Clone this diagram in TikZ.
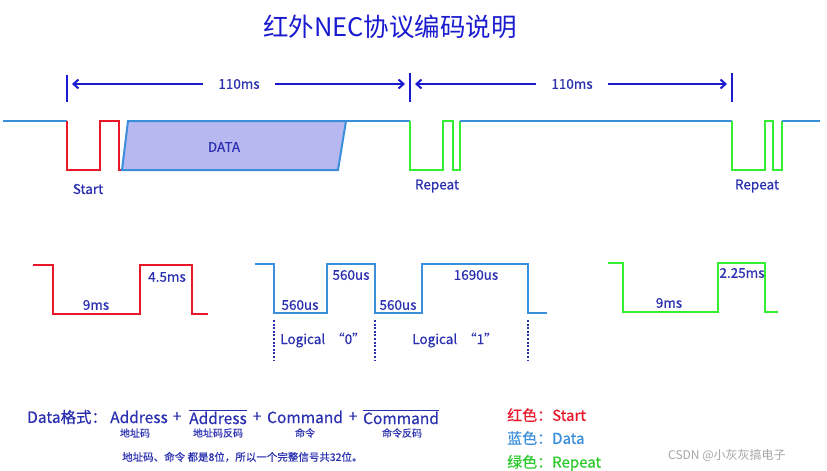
\documentclass[tikz,border=0pt]{standalone}
\usepackage{fontspec}
\setmainfont{Noto Sans CJK SC}
\newfontfamily\boldish[FakeBold=0.4]{Noto Sans CJK SC}
\usetikzlibrary{arrows.meta}
\definecolor{wblue}{HTML}{3A8FDC}
\definecolor{wred}{HTML}{E8182A}
\definecolor{wgreen}{HTML}{33EE33}
\definecolor{tblue}{HTML}{2A30B0}
\definecolor{dimblue}{HTML}{1A1AD0}
\definecolor{datafill}{HTML}{B8B8F0}
\tikzset{
  wave/.style={line width=2.6pt, line join=miter},
  lbl/.style={text=tblue, font=\boldish\fontsize{13.5}{15}\selectfont, inner sep=0pt},
  dimbar/.style={draw=dimblue, line width=2.2pt},
  dimarrow/.style={draw=dimblue, line width=2pt, -{Straight Barb[length=5pt,width=9pt]}},
  dotl/.style={draw=tblue, line width=1.4pt, dash pattern=on 2pt off 1.6pt},
  fmt/.style={text=tblue, font=\boldish\fontsize{15.5}{17}\selectfont, inner sep=0pt},
  sub/.style={text=tblue, font=\boldish\fontsize{10}{12}\selectfont, inner sep=0pt},
  legend/.style={font=\boldish\fontsize{15}{17}\selectfont, inner sep=0pt, anchor=west}
}
\begin{document}
\begin{tikzpicture}[x=1pt,y=-1pt]
\useasboundingbox (0,0) rectangle (827,471);
\fill[white] (0,0) rectangle (827,471);
% title
\node[text=dimblue, font=\fontsize{25.5}{28}\selectfont, inner sep=0pt] (title) at (390,27) {红外NEC协议编码说明};
% dimension bars
\draw[dimbar] (67,75) -- (67,102);
\draw[dimbar] (410,73) -- (410,102);
\draw[dimbar] (732,73) -- (732,102);
\node[lbl] (t1) at (239,84) {110ms};
\node[lbl] (t2) at (572,84) {110ms};
\coordinate (a1l) at (72,84); \coordinate (a1r) at (405,84);
\coordinate (a2l) at (415,84); \coordinate (a2r) at (727,84);
\draw[dimarrow] ([xshift=-15pt]t1.west) -- (a1l);
\draw[dimarrow] ([xshift=15pt]t1.east) -- (a1r);
\draw[dimarrow] ([xshift=-15pt]t2.west) -- (a2l);
\draw[dimarrow] ([xshift=15pt]t2.east) -- (a2r);
% top waveform
\draw[wave, wblue] (3,121) -- (67,121);
\draw[wave, wred] (67,121) -- (67,170) -- (100,170) -- (100,121) -- (119,121) -- (119,170) -- (122,170);
\draw[wave, wblue, line width=2pt, fill=datafill] (122,170) -- (128,121) -- (346,121) -- (338,170) -- cycle;
\draw[wave, wblue] (346,121) -- (410,121);
\draw[wave, wgreen] (410,121) -- (410,170) -- (443,170) -- (443,121) -- (453,121) -- (453,170) -- (460,170) -- (460,121);
\draw[wave, wblue] (460,121) -- (732,121);
\draw[wave, wgreen] (732,121) -- (732,170) -- (765,170) -- (765,121) -- (773,121) -- (773,170) -- (782,170) -- (782,121);
\draw[wave, wblue] (782,121) -- (820,121);
\node[lbl] (start) at (88,189) {Start};
\node[lbl] (data) at (224,147) {DATA};
\node[lbl] (rep1) at (437,186) {Repeat};
\node[lbl] (rep2) at (757,186) {Repeat};
% bottom: start
\draw[wave, wred] (33,265) -- (53,265) -- (53,314) -- (140,314) -- (140,265) -- (192,265) -- (192,314) -- (208,314);
\node[lbl] (s9) at (96,305) {9ms};
\node[lbl] (s45) at (167,277) {4.5ms};
% bottom: data bits
\draw[wave, wblue] (255,264) -- (274,264) -- (274,313) -- (327,313) -- (327,264) -- (375,264) -- (375,313) -- (422,313) -- (422,264) -- (528,264) -- (528,313) -- (547,313);
\node[lbl] (u1) at (300,305) {560us};
\node[lbl] (u2) at (351,275) {560us};
\node[lbl] (u3) at (398,305) {560us};
\node[lbl] (u4) at (476,275) {1690us};
\draw[dotl] (274,320) -- (274,360);
\draw[dotl] (375,320) -- (375,360);
\draw[dotl] (528,320) -- (528,360);
\node[lbl] (l0) at (323,340) {Logical\ \ “0”};
\node[lbl] (l1) at (455,340) {Logical\ \ “1”};
% bottom: repeat
\draw[wave, wgreen] (608,263) -- (623,263) -- (623,312) -- (718,312) -- (718,263) -- (765,263) -- (765,312) -- (778,312);
\node[lbl] (r9) at (669,303) {9ms};
\node[lbl] (r225) at (742,273) {2.25ms};
% data format
\node[fmt, anchor=west] (fmt) at (27,417) {Data格式：};
\node[fmt] (f1) at (139,417) {Address};
\node[fmt] (p1) at (177,417) {+};
\node[fmt] (f2) at (218,417) {$\overline{\mbox{Address}}$};
\node[fmt] (p2) at (257,417) {+};
\node[fmt] (f3) at (305,417) {Command};
\node[fmt] (p3) at (353,417) {+};
\node[fmt] (f4) at (401,417) {$\overline{\mbox{Command}}$};
\node[sub] (s1) at (135,433) {地址码};
\node[sub] (s2) at (218,433) {地址码反码};
\node[sub] (s3) at (305,433) {命令};
\node[sub] (s4) at (402,433) {命令反码};
\node[sub, anchor=west, font=\boldish\fontsize{10.5}{12}\selectfont] (note) at (122,457) {地址码、命令 都是8位，所以一个完整信号共32位。};
% legend
\node[legend, text=wred] (lg1) at (507,415) {红色：Start};
\node[legend, text=wblue] (lg2) at (507,438) {蓝色：Data};
\node[legend, text=wgreen!85!black] (lg3) at (507,463) {绿色：Repeat};
\node[anchor=west, text=black!35, font=\fontsize{12}{14}\selectfont, inner sep=0pt] (wm) at (668,455) {CSDN @小灰灰搞电子};
\end{tikzpicture}
\end{document}
